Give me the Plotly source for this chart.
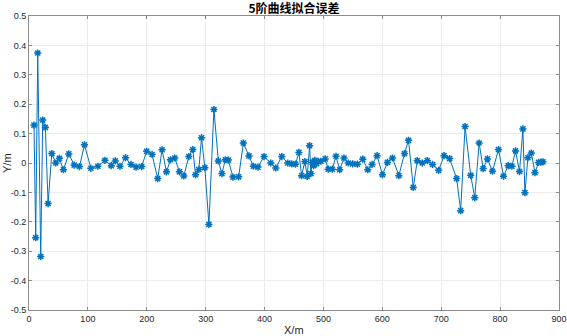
import plotly.graph_objects as go

x_vals = [8.5, 11.4, 14.8, 19.9, 23.3, 27.8, 32.4, 38.7, 45.5, 51.6,
          58.4, 67.6, 76.7, 85.7, 94.2, 105.1, 117, 129, 139.7, 146.5,
          154.5, 164, 173.2, 181.8, 191.3, 199.8, 209, 218.6, 226, 233.4,
          240.2, 247.5, 255.5, 262.9, 271.4, 278.2, 282.8, 288.4, 293, 298.6,
          305.5, 314, 321.5, 327.6, 333.4, 338.5, 346.3, 356, 364, 373.6,
          381.1, 388.9, 399.1, 410.6, 419.1, 429.3, 439.5, 446.3, 452.6, 458.3,
          462.9, 468.5, 472.4, 476.5, 478.7, 480.9, 483.3, 485.5, 488.4, 491.1,
          495.7, 503, 508.2, 515, 521.3, 527.6, 534.9, 542.2, 549.7, 557.6,
          566.8, 575.3, 582.6, 591.1, 600.2, 608.7, 617.2, 628.1, 637.6, 644.5,
          652.5, 659.3, 667.8, 676.3, 685.4, 695.6, 704.8, 714.3, 726.2, 733,
          740.5, 750.1, 756.9, 764.4, 771.2, 778.5, 787, 797.3, 805.8, 813.8,
          820, 826.2, 833, 838.7, 842.1, 847.2, 853, 859.1, 865.4, 869.3, 872.7]
y_vals = [0.129, -0.254, 0.374, -0.318, 0.146, 0.121, -0.138, 0.032, 0.0, 0.016,
          -0.023, 0.031, -0.007, -0.012, 0.062, -0.018, -0.011, 0.009, -0.009, 0.007,
          -0.011, 0.018, -0.005, -0.014, -0.012, 0.040, 0.029, -0.053, 0.045, -0.030,
          0.011, 0.017, -0.030, -0.044, 0.022, 0.046, -0.040, -0.022, 0.086, -0.016,
          -0.209, 0.182, 0.007, -0.036, 0.011, 0.010, -0.048, -0.047, 0.068, 0.024,
          -0.011, -0.014, 0.022, 0.0, -0.017, 0.022, 0.0, -0.003, -0.004, 0.036,
          -0.043, 0.005, -0.046, 0.059, -0.036, 0.002, -0.009, 0.009, -0.002, 0.006,
          0.006, 0.014, -0.021, -0.021, 0.023, -0.023, 0.017, 0.0, -0.003, -0.004,
          0.013, -0.023, -0.005, 0.025, -0.040, 0.002, 0.017, -0.043, 0.032, 0.077,
          -0.083, 0.008, 0.0, 0.008, -0.005, -0.025, 0.025, 0.015, -0.053, -0.162,
          0.124, -0.042, -0.118, 0.068, -0.019, 0.014, -0.028, 0.046, -0.045, -0.009,
          -0.011, 0.041, -0.029, 0.116, -0.101, 0.018, 0.034, -0.033, 0.002, 0.003, 0.004]

x_ticks = [0, 100, 200, 300, 400, 500, 600, 700, 800, 900]
y_ticks = [-0.5, -0.4, -0.3, -0.2, -0.1, 0, 0.1, 0.2, 0.3, 0.4, 0.5]
y_tick_text = ["-0.5", "-0.4", "-0.3", "-0.2", "-0.1", "0", "0.1", "0.2", "0.3", "0.4", "0.5"]

title_text = "5阶曲线拟合误差"
x_title = "X/m"
y_title = "Y/m"

color = "#0072BD"
W, H = 567, 336
ML, MR, MT, MB = 29, 8, 16, 26
PW, PH = W - ML - MR, H - MT - MB

fig = go.Figure()
fig.add_trace(go.Scatter(
    x=x_vals, y=y_vals, mode="lines+markers",
    line=dict(color=color, width=1),
    marker=dict(symbol="asterisk-open", size=6, color=color,
                line=dict(color=color, width=1.5)),
    showlegend=False,
))

axis_common = dict(
    showgrid=True, gridcolor="#ebebeb", gridwidth=1,
    showline=True, linecolor="#8c8c8c", linewidth=1, mirror="ticks",
    ticks="inside", ticklen=3, tickcolor="#8c8c8c",
    zeroline=False, automargin=False,
    tickfont=dict(family="Liberation Sans, Arial", size=9, color="#262626"),
)

label_font = dict(family="Liberation Sans, Arial", size=11, color="#262626")

fig.update_layout(
    width=W, height=H,
    margin=dict(l=ML, r=MR, t=MT, b=MB),
    paper_bgcolor="white", plot_bgcolor="white",
    title=dict(text=title_text, x=(ML + PW / 2) / W, xanchor="center",
               yref="container", y=1 - 9 / H, yanchor="middle",
               font=dict(family="Noto Sans CJK SC", size=12, color="#000000", weight="bold")),
    xaxis=dict(range=[0, 900], tickvals=x_ticks, ticktext=[str(v) for v in x_ticks],
               **axis_common),
    yaxis=dict(range=[-0.5, 0.5], tickvals=y_ticks, ticktext=y_tick_text,
               **axis_common),
    annotations=[
        dict(text=x_title, xref="paper", yref="paper", x=0.5, y=-(330 - (H - MB)) / PH,
             xanchor="center", yanchor="middle", showarrow=False, font=label_font),
        dict(text=y_title, xref="paper", yref="paper", x=-(ML - 7) / PW, y=0.5,
             xanchor="center", yanchor="middle", textangle=-90, showarrow=False, font=label_font),
    ],
)

fig.write_html("out.html", config={"displayModeBar": False},
               post_script="document.body.style.margin='0';")
